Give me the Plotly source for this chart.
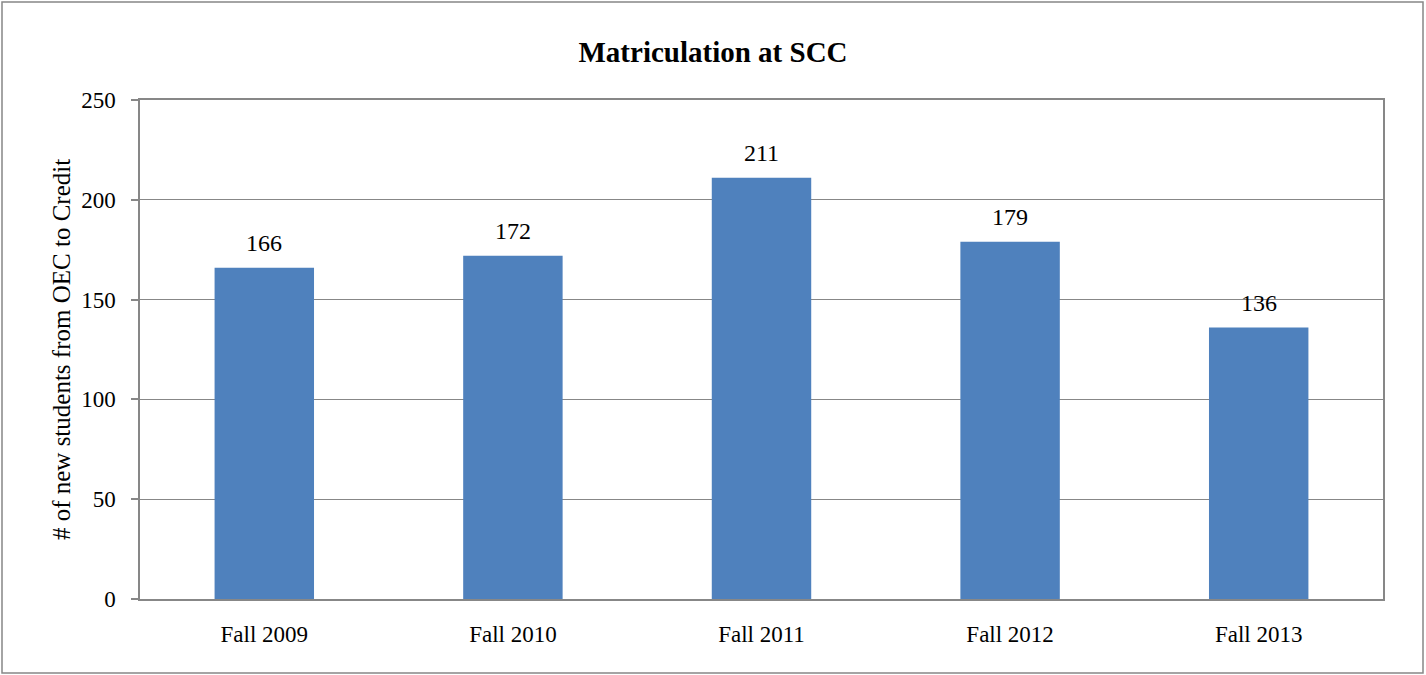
import plotly.graph_objects as go

categories = ["Fall 2009", "Fall 2010", "Fall 2011", "Fall 2012", "Fall 2013"]
values = [166, 172, 211, 179, 136]
y_ticks = [0, 50, 100, 150, 200, 250]

FONT = "Liberation Serif, Times New Roman, serif"
GRID = "#878787"

fig = go.Figure(go.Bar(
    x=categories, y=values, marker_color="#4F81BD", marker_line_width=0,
    width=0.4, hoverinfo="x+y",
))

for c, v in zip(categories, values):
    fig.add_annotation(x=c, y=v, text=str(v), showarrow=False,
                       yanchor="bottom", yshift=10,
                       font=dict(family=FONT, size=24, color="#000000"))

fig.update_layout(
    width=1426, height=675,
    margin=dict(l=140, r=43, t=100, b=76),
    paper_bgcolor="white", plot_bgcolor="white",
    title=dict(text="<b>Matriculation at SCC</b>", x=0.5, xanchor="center",
               y=1 - 52 / 675, yanchor="middle",
               font=dict(family=FONT, size=29, color="#000000")),
    showlegend=False,
    font=dict(family=FONT, size=23, color="#000000"),
    bargap=0.6,
)
fig.update_xaxes(
    showline=True, linecolor=GRID, linewidth=1.5, mirror=True,
    ticks="", tickfont=dict(family=FONT, size=23), showgrid=False,
    ticklabelstandoff=14,
)
fig.update_yaxes(
    range=[0, 250], tickvals=y_ticks, showgrid=True, gridcolor=GRID, gridwidth=1,
    showline=True, linecolor=GRID, linewidth=1.5, mirror=True,
    ticks="outside", ticklen=7, tickcolor=GRID, tickwidth=1.5,
    tickfont=dict(family=FONT, size=23), ticklabelstandoff=11,
    title=dict(text="# of new students from OEC to Credit",
               font=dict(family=FONT, size=25), standoff=3),
    zeroline=False,
)
fig.add_shape(type="rect", xref="paper", yref="paper",
              x0=-138 / 1243, x1=1283 / 1243, y0=-74 / 499, y1=597 / 499,
              line=dict(color="#878787", width=1.5), fillcolor="rgba(0,0,0,0)",
              layer="below")

fig.write_html("out.html", config={"displayModeBar": False},
               post_script="document.body.style.margin='0';")
